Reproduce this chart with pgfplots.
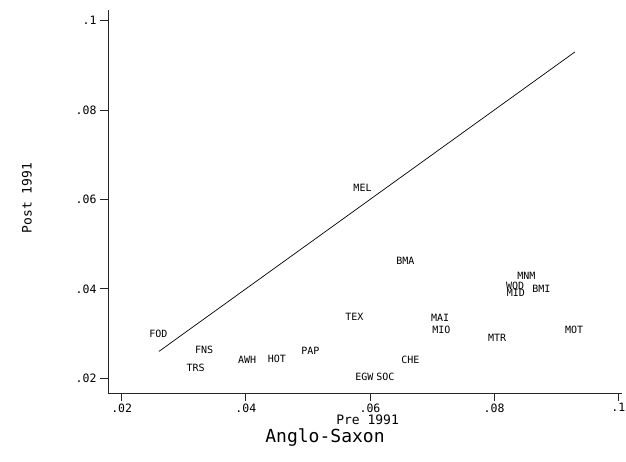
\documentclass[border=0pt]{standalone}
\usepackage{fontspec}
\setmainfont{DejaVu Sans}
\setmonofont{DejaVu Sans Mono}
\usepackage{pgfplots}
\pgfplotsset{compat=1.18}
\usepackage{pgfplotstable}

% pre/post 1991 values, one row per firm
\pgfplotstableread{
x      y      lab
0.0259 0.0299 FOD
0.0333 0.0263 FNS
0.0319 0.0224 TRS
0.0402 0.0241 AWH
0.0450 0.0243 HOT
0.0504 0.0261 PAP
0.0588 0.0625 MEL
0.0575 0.0338 TEX
0.0657 0.0462 BMA
0.0591 0.0204 EGW
0.0625 0.0204 SOC
0.0665 0.0241 CHE
0.0713 0.0335 MAI
0.0715 0.0308 MIO
0.0805 0.0291 MTR
0.0852 0.0430 MNM
0.0834 0.0406 WOD
0.0835 0.0391 MID
0.0876 0.0400 BMI
0.0929 0.0308 MOT
}\firms

\begin{document}
\begin{tikzpicture}[x=1pt,y=1pt]
\path[use as bounding box] (0,0) rectangle (626,461);
\begin{axis}[
    at={(108pt,68pt)}, anchor=south west,
    width=514pt, height=383pt, scale only axis,
    xmin=0.0178, xmax=0.1006, ymin=0.0167, ymax=0.1024,
    axis lines=left,
    axis line style={-, line width=0.8pt, black!85},
    xtick={0.02,0.04,0.06,0.08,0.1},
    xticklabels={.02,.04,.06,.08,.1},
    ytick={0.02,0.04,0.06,0.08,0.1},
    yticklabels={.02,.04,.06,.08,.1},
    tick align=outside, major tick length=8pt,
    tick style={line width=0.8pt, black!85},
    ticklabel style={font=\ttfamily\fontsize{11.5}{11.5}\selectfont},
    xticklabel style={yshift=1pt},
    xlabel={Pre 1991}, ylabel={Post 1991},
    label style={font=\ttfamily\fontsize{13}{13}\selectfont},
    xlabel style={at={(axis description cs:0.505,-0.069)}, anchor=center},
    ylabel style={at={(axis description cs:-0.1576,0.509)}, anchor=center},
    clip=false,
]
    \addplot[black, line width=0.7pt] coordinates {(0.026,0.026) (0.093,0.093)};
    \addplot[only marks, mark=none, nodes near coords, point meta=explicit symbolic,
        every node near coord/.append style={anchor=center, inner sep=0pt,
            font=\ttfamily\fontsize{10}{10}\selectfont}]
        table[x=x, y=y, meta=lab] {\firms};
\end{axis}
\node[anchor=base, font=\ttfamily\fontsize{18}{18}\selectfont] at (325,19) {Anglo-Saxon};
\end{tikzpicture}
\end{document}
